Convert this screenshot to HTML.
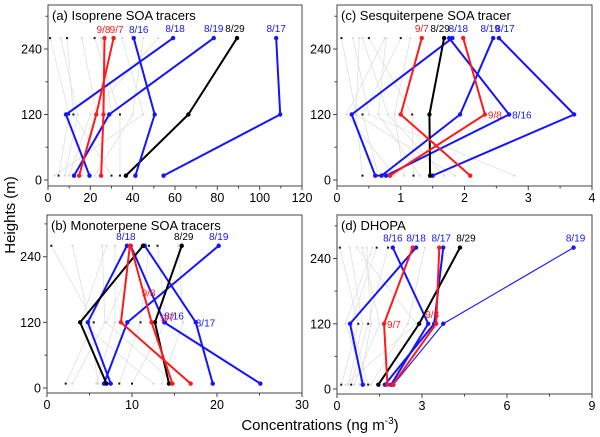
<!DOCTYPE html>
<html><head><meta charset="utf-8"><style>
html,body{margin:0;padding:0;background:#fff}
svg{display:block;font-family:"Liberation Sans",Arial,sans-serif}
</style></head><body>
<svg id="chart" width="600" height="437" viewBox="0 0 600 437" xmlns="http://www.w3.org/2000/svg">
<text x="15" y="215" font-size="15" text-anchor="middle" transform="rotate(-90 15 215)">Heights (m)</text>
<text x="320" y="430" font-size="15" text-anchor="middle">Concentrations (ng m<tspan font-size="10" dy="-6">-3</tspan><tspan dy="6">)</tspan></text>
</svg>
<script>
const heights = [8, 120, 260];
// Panel a: Isoprene
const aNames = ["8/17","8/29","8/19","8/18","8/16","9/8","9/7"];
const aColors = ["blue","black","blue","blue","blue","red","red"];
const aValues = [[54.6,109.7,107.8],[36.8,66.3,89.3],[12.3,28.9,78.3],[19.6,8.5,59.1],[41.3,50.4,40.5],[25.1,26.2,26.7],[14.7,22.8,31]];
const aGray = [[5,10,1],[8,14,6],[16,23,16],[34,34,22],[3,45,35],[10,20,52],[30,12,9],[22,40,45],[12,30,25]];
// Panel b: Monoterpene
const bNames = ["8/19","8/17","8/16","8/18","8/29","","9/8","9/7"];
const bColors = ["blue","blue","blue","blue","black","black","red","red"];
const bValues = [[6.7,9.45,20.2],[19.5,17.5,11.5],[25.1,13.8,9.85],[7.5,4.8,9.4],[14.35,12.7,15.85],[7,3.9,11.3],[14.75,12.3,9.85],[16.9,8.7,9.75]];
const bGray = [[2.2,5.5,0.5],[3,6.8,6.5],[5.8,8,8],[10,14,13],[12.5,4,7],[13.5,16,15.5],[8.5,11,12],[6,5,3],[15,7,11]];
// Panel c: Sesquiterpene
const cNames = ["8/17","8/19","8/16","8/18","8/29","9/7","9/8"];
const cColors = ["blue","blue","blue","blue","black","red","red"];
const cValues = [[1.5,3.72,2.54],[0.7,1.93,2.45],[0.77,2.7,1.76],[0.6,0.23,1.81],[1.46,1.45,1.68],[2.09,1.0,1.33],[0.83,2.32,1.98]];
const cGray = [[0.4,0.3,0.07],[2.78,0.5,0.25],[1.68,0.8,0.4],[1.2,1.18,0.5],[0.9,0.15,0.75],[1.3,0.65,0.77],[0.65,0.4,1.0],[1.85,0.3,0.35],[1.05,0.9,1.15]];
// Panel d: DHOPA
const dNames = ["8/19","8/17","8/16","8/18","8/29","9/8","9/7"];
const dColors = ["blue","blue","blue","blue","black","red","red"];
const dValues = [[1.99,3.75,8.35],[1.69,3.43,3.75],[1.91,3.22,1.97],[0.91,0.46,2.79],[1.46,2.9,4.34],[1.97,3.5,3.61],[1.78,1.66,2.67]];
const dGray = [[0.15,0.75,0.1],[0.4,0.9,0.45],[0.8,1.2,1.05],[1.1,0.5,1.4],[0.6,1.5,0.9],[1.2,2.5,3.1],[0.5,1.1,1.8],[1.0,0.3,1.25],[0.3,2.8,0.7]];
const xTicksA = ["0","20","40","60","80","100","120"];
const xTicksB = ["0","10","20","30"];
const xTicksC = ["0","1","2","3","4"];
const xTicksD = ["0","3","6","9"];
const yTicks = ["0","120","240"];

const NS = "http://www.w3.org/2000/svg";
const svg = document.getElementById("chart");
const COL = {blue:"#1414ff", black:"#000", red:"#ff1a1a"};
function mk(tag, attrs, parent){ const e=document.createElementNS(NS,tag); for(const k in attrs) e.setAttribute(k,attrs[k]); (parent||svg).appendChild(e); return e; }

function panel(id, title, box, xMax, xTicks, minorPer, py0, pyPer, names, colors, values, gray, labelPos){
  const g = mk("g",{});
  
  
  const xs = v => box.x0 + (box.x1-box.x0)*v/xMax;
  const ys = h => py0 - h*pyPer;
  gray.forEach((s,i)=>{
    const pts = s.map((v,j)=>xs(v)+","+ys(heights[j])).join(" ");
    const pl = mk("polyline",{points:pts,fill:"none",stroke:"#e0e0e0","stroke-width":0.8},g);
    
    
    s.forEach((v,j)=>{
      const r = mk("rect",{x:xs(v)-1,y:ys(heights[j])-1,width:2,height:2,fill:(i%3===0)?"#111":"#d8d8d8"},g);
      
      
    });
  });
  values.forEach((s,i)=>{
    const c = COL[colors[i]];
    const thin = (id==="d" && names[i]==="8/19");
    const pts = s.map((v,j)=>xs(v)+","+ys(heights[j])).join(" ");
    const pl = mk("polyline",{points:pts,fill:"none",stroke:c,"stroke-width":thin?1.1:2,"stroke-linejoin":"round"},g);
    
    
    s.forEach((v,j)=>{
      const p = mk("circle",{cx:xs(v),cy:ys(heights[j]),r:2.2,fill:c},g);
      
      
    });
  });
  labelPos.forEach(L=>{
    const i = names.indexOf(L[0]);
    const t = mk("text",{x:xs(values[i][L[1]])+(L[2]||0),y:ys(heights[L[1]])+(L[3]||0),"font-size":10,fill:COL[colors[i]],"text-anchor":L[4]||"middle"},g);
    t.textContent = L[0];
    
    
  });
  const b = mk("rect",{x:box.x0,y:box.y0,width:box.x1-box.x0,height:box.y1-box.y0,fill:"none",stroke:"#444","stroke-width":1},g);
  
  
  const tt = mk("text",{x:box.x0+4,y:box.y0+15,"font-size":13},g);
  tt.textContent = title;
  
  
  const step = xMax/(xTicks.length-1);
  xTicks.forEach((lab,k)=>{
    const x = xs(k*step);
    mk("line",{x1:x,x2:x,y1:box.y1,y2:box.y1+4,stroke:"#444"},g);
    const t = mk("text",{x:x,y:box.y1+16,"font-size":12.5,"text-anchor":"middle"},g);
    t.textContent = lab;
    
    
    if(k<xTicks.length-1) for(let m=1;m<minorPer;m++){ const xm=xs((k+m/minorPer)*step); mk("line",{x1:xm,x2:xm,y1:box.y1,y2:box.y1+2.5,stroke:"#444"},g); }
  });
  [0,60,120,180,240,300].forEach(h=>{
    const y = ys(h); if(y<box.y0) return;
    const major = h%120===0;
    mk("line",{x1:box.x0-(major?4:2.5),x2:box.x0,y1:y,y2:y,stroke:"#444"},g);
    if(major){
      const t = mk("text",{x:box.x0-6,y:y+4.5,"font-size":12.5,"text-anchor":"end"},g);
      t.textContent = yTicks[h/120];
      
      
    }
  });
}
panel("a","(a) Isoprene SOA tracers",{x0:48,x1:302,y0:5,y1:186},120,xTicksA,2,180,131/240,aNames,aColors,aValues,aGray,
 [["9/8",2,-1,-5],["9/7",2,3,-5],["8/16",2,5,-5],["8/18",2,2,-6],["8/19",2,0,-6],["8/29",2,-2,-6],["8/17",2,0,-6]]);
panel("b","(b) Monoterpene SOA tracers",{x0:47,x1:302,y0:215,y1:393},30,xTicksB,2,388,131.3/240,bNames,bColors,bValues,bGray,
 [["8/18",2,-1,-6],["8/29",2,2,-6],["8/19",2,0,-6],["8/16",1,0,-3,"start"],["8/17",1,0,4,"start"],["9/8",1,-3,-26],["9/7",0,-23,-62]]);
panel("c","(c) Sesquiterpene SOA tracer",{x0:337,x1:592,y0:5,y1:186},4,xTicksC,2,180,131/240,cNames,cColors,cValues,cGray,
 [["9/7",2,0,-6],["8/29",2,-4,-6],["8/18",2,6,-6],["8/19",2,-3,-6],["8/17",2,6,-6],["9/8",1,3,4,"start"],["8/16",1,3,4,"start"]]);
panel("d","(d) DHOPA",{x0:337,x1:592,y0:215,y1:394},9,xTicksD,2,389,130.5/240,dNames,dColors,dValues,dGray,
 [["8/16",2,0,-6],["8/18",2,0,-6],["8/17",2,-2,-6],["8/29",2,6,-6],["8/19",2,2,-6],["9/8",1,-4,-6],["9/7",1,3,4,"start"]]);
</script>
</body></html>
